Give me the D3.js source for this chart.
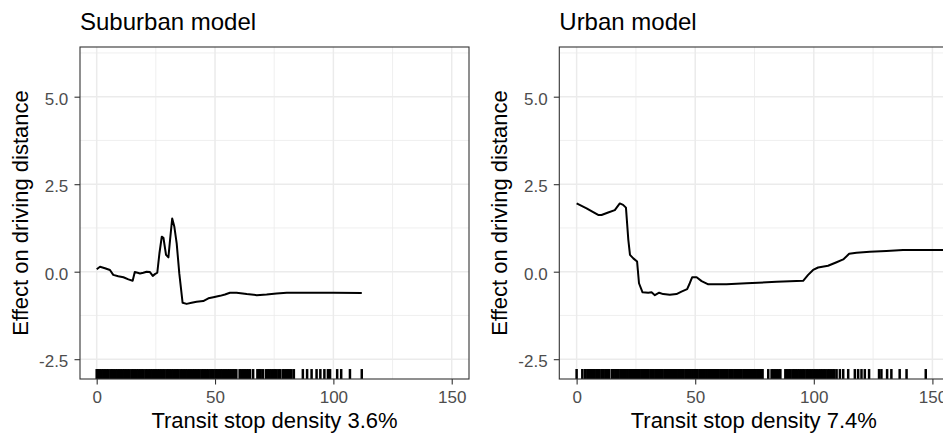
<!DOCTYPE html>
<html><head><meta charset="utf-8">
<script src="https://cdn.jsdelivr.net/npm/d3@7"></script>
<style>
body{margin:0;background:#fff}
svg{display:block}
text{font-family:"Liberation Sans",Arial,Helvetica,sans-serif}
</style>
</head><body>
<svg id="c" width="943" height="435"></svg>
<script>
// ---------- data ----------
const panelTitles = ["Suburban model", "Urban model"];
const xAxisTitles = ["Transit stop density 3.6%", "Transit stop density 7.4%"];
const yAxisTitle = "Effect on driving distance";
const xTicks = [0, 50, 100, 150];
const yTicks = [-2.5, 0, 2.5, 5];
const xMinorTicks = [25, 75, 125];
const yMinorTicks = [-1.25, 1.25, 3.75, 6.25];

const suburbanX = [0, 1.4, 3.5, 5.6, 7.0, 9.1, 11.3, 13.4, 15.2, 16.1, 17.3, 18.3, 19.7, 21.1, 22.5, 23.7, 24.6, 25.6, 26.5, 27.5, 28.2, 29.3, 30.3, 31.0, 31.9, 32.8, 33.8, 34.9, 36.3, 38.0, 40.1, 42.2, 45.0, 47.2, 49.3, 52.1, 54.2, 56.3, 59.1, 63.4, 67.6, 71.8, 76.0, 80.3, 86.0, 100.0, 112.0];
const suburbanY = [0.07, 0.14, 0.10, 0.05, -0.09, -0.13, -0.16, -0.22, -0.26, -0.01, -0.03, -0.05, -0.03, 0.0, -0.01, -0.12, -0.07, -0.03, 0.52, 1.0, 0.97, 0.48, 0.41, 0.91, 1.52, 1.29, 0.81, -0.05, -0.89, -0.92, -0.89, -0.86, -0.84, -0.76, -0.73, -0.69, -0.65, -0.60, -0.60, -0.64, -0.67, -0.65, -0.62, -0.60, -0.60, -0.60, -0.61];

const urbanX = [0, 4.2, 7.0, 9.1, 10.5, 13.3, 16.1, 18.2, 19.6, 20.8, 21.8, 22.5, 23.9, 25.5, 26.3, 27.8, 30.2, 31.6, 33.0, 34.8, 36.5, 39.3, 42.1, 44.2, 46.6, 47.7, 48.7, 50.6, 52.7, 55.5, 63.2, 71.6, 84.3, 95.5, 97.6, 99.7, 101.8, 106.0, 109.6, 112.4, 114.9, 118.0, 123.6, 130.6, 137.6, 156.0];
const urbanY = [1.95, 1.81, 1.70, 1.62, 1.62, 1.69, 1.76, 1.95, 1.91, 1.83, 0.91, 0.48, 0.38, 0.29, -0.33, -0.59, -0.60, -0.59, -0.67, -0.60, -0.64, -0.66, -0.64, -0.57, -0.50, -0.33, -0.16, -0.16, -0.27, -0.36, -0.36, -0.33, -0.29, -0.26, -0.09, 0.05, 0.12, 0.17, 0.27, 0.35, 0.51, 0.54, 0.57, 0.59, 0.62, 0.62];

const suburbanRug = [0, 0.6, 1.3, 2.1, 2.8, 3.5, 4.3, 5.0, 5.8, 6.5, 7.2, 8.0, 8.7, 9.5, 10.2, 11.0, 11.7, 12.4, 13.2, 13.9, 14.7, 15.4, 16.1, 16.9, 17.6, 18.4, 19.1, 19.8, 20.6, 21.3, 22.1, 22.8, 23.5, 24.3, 25.0, 25.8, 26.5, 27.2, 28.0, 28.7, 29.5, 30.2, 30.9, 31.7, 32.4, 33.2, 33.9, 34.6, 35.4, 36.1, 36.9, 37.6, 38.3, 39.1, 39.8, 40.6, 41.3, 42.0, 42.8, 43.5, 44.3, 45.0, 45.7, 46.5, 47.2, 48.0, 48.7, 49.4, 50.2, 50.9, 51.7, 52.4, 53.1, 53.9, 54.6, 55.4, 56.1, 56.8, 57.6, 58.3, 59.0, 60.4, 61.1, 61.9, 62.6, 63.4, 64.1, 64.8, 66.1, 67.9, 68.6, 69.3, 70.3, 71.6, 72.3, 73.1, 73.8, 74.6, 75.3, 76.0, 76.8, 77.5, 78.6, 79.3, 80.1, 80.8, 81.6, 82.3, 83.3, 87.1, 88.9, 90.8, 92.9, 94.5, 96.2, 97.7, 98.6, 101.6, 103.3, 107.0, 112.0];
const urbanRug = [0, 2.4, 3.5, 4.5, 5.3, 6.0, 6.8, 7.5, 8.3, 9.0, 9.7, 10.6, 11.3, 12.1, 12.8, 13.6, 14.8, 15.5, 16.3, 17.0, 17.7, 18.5, 19.2, 20.0, 20.7, 21.4, 22.2, 22.9, 23.7, 24.4, 25.1, 25.9, 26.6, 27.4, 28.1, 28.8, 29.6, 30.3, 31.1, 31.8, 32.5, 33.3, 34.0, 34.8, 35.5, 36.2, 37.0, 37.7, 38.5, 39.2, 39.9, 40.7, 41.4, 42.2, 42.9, 43.6, 44.4, 45.1, 45.9, 46.6, 47.3, 48.1, 48.8, 49.6, 50.3, 51.0, 51.8, 52.5, 53.3, 54.0, 54.7, 55.5, 56.2, 57.0, 57.7, 58.4, 59.2, 59.9, 60.7, 61.4, 62.1, 62.9, 63.6, 64.4, 65.1, 65.8, 66.6, 67.3, 68.1, 68.8, 69.5, 70.3, 71.0, 71.8, 72.5, 73.2, 74.0, 74.7, 75.5, 76.2, 76.9, 77.7, 78.4, 80.8, 82.2, 82.9, 83.7, 84.4, 85.2, 85.9, 88.0, 88.7, 89.5, 90.2, 91.0, 91.7, 92.4, 93.2, 93.9, 94.7, 95.4, 96.1, 96.9, 97.6, 98.4, 99.1, 99.8, 100.6, 101.3, 102.1, 102.8, 103.5, 104.3, 105.0, 105.8, 106.5, 107.2, 108.0, 108.7, 109.6, 111.0, 112.4, 114.5, 117.3, 118.7, 120.1, 121.5, 123.3, 127.5, 128.5, 130.9, 132.7, 136.2, 139.1, 147.2];

// ---------- layout ----------
const panels = [
  {title: panelTitles[0], xTitle: xAxisTitles[0], xs: suburbanX, ys: suburbanY, rug: suburbanRug, left: 80, xDomain: [-7.05, 157.3]},
  {title: panelTitles[1], xTitle: xAxisTitles[1], xs: urbanX, ys: urbanY, rug: urbanRug, left: 559.3, xDomain: [-7.3, 156.7]}
];
const panelTop = 47, W = 389, H = 332;
const yDomain = [-3.066, 6.42];

const svg = d3.select("#c");

panels.forEach((p, i) => {
  const g = svg.append("g").attr("transform", `translate(${p.left},${panelTop})`);
  const x = d3.scaleLinear().domain(p.xDomain).range([0, W]);
  const y = d3.scaleLinear().domain(yDomain).range([H, 0]);

  const clipId = "clip" + i;
  g.append("clipPath").attr("id", clipId).append("rect").attr("width", W).attr("height", H);

  g.append("rect").attr("width", W).attr("height", H).attr("fill", "#fff");

  const grid = g.append("g").attr("clip-path", `url(#${clipId})`);
  grid.selectAll(".vmin").data(xMinorTicks).join("line")
    .attr("x1", d => x(d)).attr("x2", d => x(d)).attr("y1", 0).attr("y2", H)
    .attr("stroke", "#ebebeb").attr("stroke-width", 0.8);
  grid.selectAll(".hmin").data(yMinorTicks).join("line")
    .attr("y1", d => y(d)).attr("y2", d => y(d)).attr("x1", 0).attr("x2", W)
    .attr("stroke", "#ebebeb").attr("stroke-width", 0.8);
  grid.selectAll(".vmaj").data(xTicks).join("line")
    .attr("x1", d => x(d)).attr("x2", d => x(d)).attr("y1", 0).attr("y2", H)
    .attr("stroke", "#ebebeb").attr("stroke-width", 1.5);
  grid.selectAll(".hmaj").data(yTicks).join("line")
    .attr("y1", d => y(d)).attr("y2", d => y(d)).attr("x1", 0).attr("x2", W)
    .attr("stroke", "#ebebeb").attr("stroke-width", 1.5);

  const pts = p.xs.map((v, k) => [v, p.ys[k]]);
  g.append("path").datum(pts)
    .attr("clip-path", `url(#${clipId})`)
    .attr("fill", "none").attr("stroke", "#000").attr("stroke-width", 2)
    .attr("stroke-linejoin", "round")
    .attr("d", d3.line().x(d => x(d[0])).y(d => y(d[1])));

  g.append("g").attr("clip-path", `url(#${clipId})`)
    .selectAll("line").data(p.rug).join("line")
    .attr("x1", d => x(d)).attr("x2", d => x(d))
    .attr("y1", H).attr("y2", H - H * 0.03)
    .attr("stroke", "#000").attr("stroke-width", 2.5);

  g.append("rect").attr("width", W).attr("height", H)
    .attr("fill", "none").attr("stroke", "#333").attr("stroke-width", 1.1);

  const xa = g.append("g").attr("transform", `translate(0,${H})`)
    .call(d3.axisBottom(x).tickValues(xTicks).tickSize(5.5).tickFormat(d3.format("d")));
  xa.select(".domain").remove();
  xa.selectAll("line").attr("stroke", "#333").attr("stroke-width", 1.1);
  xa.selectAll("text").attr("y", 24).attr("dy", 0)
    .attr("fill", "#4d4d4d").style("font-size", "17px")
    .style("font-family", '"Liberation Sans",Arial,sans-serif');

  const ya = g.append("g")
    .call(d3.axisLeft(y).tickValues(yTicks).tickSize(5.5).tickFormat(d => d.toFixed(1)));
  ya.select(".domain").remove();
  ya.selectAll("line").attr("stroke", "#333").attr("stroke-width", 1.1);
  ya.selectAll("text").attr("x", -11.7).attr("dy", 7.6)
    .attr("fill", "#4d4d4d").style("font-size", "17px")
    .style("font-family", '"Liberation Sans",Arial,sans-serif');

  g.append("text").attr("x", 0).attr("y", 29.5 - panelTop)
    .attr("fill", "#000").style("font-size", "24px").text(p.title);
  g.append("text").attr("x", W / 2).attr("y", 428 - panelTop)
    .attr("text-anchor", "middle").attr("fill", "#000").style("font-size", "22px").text(p.xTitle);
  g.append("text")
    .attr("transform", `translate(${27.5 - 80},${H / 2}) rotate(-90)`)
    .attr("text-anchor", "middle").attr("fill", "#000").style("font-size", "22px").text(yAxisTitle);
});
</script>
</body></html>
